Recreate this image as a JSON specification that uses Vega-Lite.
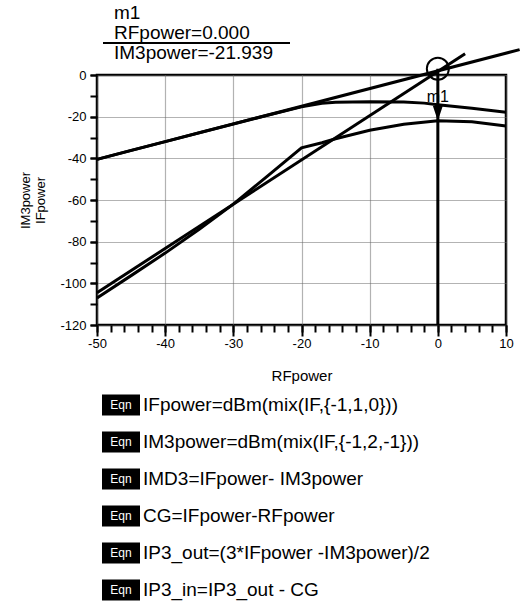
{
  "$schema": "https://vega.github.io/schema/vega-lite/v6.json",
  "padding": {"left": 18, "top": 3, "right": 0, "bottom": 0},
  "bounds": "flush",
  "spacing": 12,
  "config": {
    "font": "Liberation Sans",
    "view": {"stroke": null},
    "axis": {"labelFont": "Liberation Sans", "titleFont": "Liberation Sans", "titleFontWeight": "normal", "labelColor": "black", "titleColor": "black", "tickColor": "black"}
  },
  "datasets": {
    "traces": [
      {"series": "IFpower", "RFpower": -50, "power": -40.5},
      {"series": "IFpower", "RFpower": -45, "power": -36.2},
      {"series": "IFpower", "RFpower": -40, "power": -32.0},
      {"series": "IFpower", "RFpower": -35, "power": -27.7},
      {"series": "IFpower", "RFpower": -30, "power": -23.5},
      {"series": "IFpower", "RFpower": -25, "power": -19.3},
      {"series": "IFpower", "RFpower": -20, "power": -15.3},
      {"series": "IFpower", "RFpower": -17, "power": -13.6},
      {"series": "IFpower", "RFpower": -15, "power": -13.1},
      {"series": "IFpower", "RFpower": -10, "power": -12.8},
      {"series": "IFpower", "RFpower": -5, "power": -13.0},
      {"series": "IFpower", "RFpower": -2, "power": -13.5},
      {"series": "IFpower", "RFpower": 0, "power": -14.3},
      {"series": "IFpower", "RFpower": 5, "power": -16.0},
      {"series": "IFpower", "RFpower": 10, "power": -17.9},
      {"series": "IFpower fit", "RFpower": -50, "power": -40.5},
      {"series": "IFpower fit", "RFpower": 12, "power": 12.2},
      {"series": "IM3power", "RFpower": -50, "power": -107},
      {"series": "IM3power", "RFpower": -45, "power": -96.3},
      {"series": "IM3power", "RFpower": -40, "power": -85.5},
      {"series": "IM3power", "RFpower": -35, "power": -74},
      {"series": "IM3power", "RFpower": -30, "power": -62},
      {"series": "IM3power", "RFpower": -25, "power": -48.5},
      {"series": "IM3power", "RFpower": -20, "power": -35},
      {"series": "IM3power", "RFpower": -17, "power": -32.5},
      {"series": "IM3power", "RFpower": -15, "power": -30.6},
      {"series": "IM3power", "RFpower": -10, "power": -26.5},
      {"series": "IM3power", "RFpower": -5, "power": -23.6},
      {"series": "IM3power", "RFpower": 0, "power": -21.939},
      {"series": "IM3power", "RFpower": 5, "power": -22.4},
      {"series": "IM3power", "RFpower": 10, "power": -24.5},
      {"series": "IM3power fit", "RFpower": -50, "power": -104.5},
      {"series": "IM3power fit", "RFpower": 4, "power": 10.2}
    ],
    "marker": [{"name": "m1", "RFpower": 0, "IM3power": -21.939, "ip3": 3}],
    "readout": [{"line": "m1"}, {"line": "RFpower=0.000"}, {"line": "IM3power=-21.939"}],
    "equations": [
      {"eq": "IFpower=dBm(mix(IF,{-1,1,0}))"},
      {"eq": "IM3power=dBm(mix(IF,{-1,2,-1}))"},
      {"eq": "IMD3=IFpower- IM3power"},
      {"eq": "CG=IFpower-RFpower"},
      {"eq": "IP3_out=(3*IFpower -IM3power)/2"},
      {"eq": "IP3_in=IP3_out - CG"}
    ]
  },
  "vconcat": [
    {
      "width": 409,
      "height": 60,
      "data": {"name": "readout"},
      "encoding": {
        "y": {"field": "line", "type": "nominal", "sort": null, "axis": null, "scale": {"type": "band", "paddingInner": 0, "paddingOuter": 0}}
      },
      "layer": [
        {
          "mark": {"type": "text", "align": "left", "baseline": "middle", "fontSize": 19, "color": "black"},
          "encoding": {"x": {"value": 17}, "text": {"field": "line"}}
        },
        {
          "transform": [{"filter": "datum.line === 'IM3power=-21.939'"}],
          "mark": {"type": "rule", "color": "black", "strokeWidth": 2},
          "encoding": {
            "y": {"field": "line", "type": "nominal", "sort": null, "bandPosition": 0},
            "x": {"value": 6},
            "x2": {"value": 193}
          }
        }
      ]
    },
    {
      "width": 409,
      "height": 250,
      "view": {"stroke": "black", "strokeWidth": 2.5},
      "resolve": {"axis": {"x": "independent", "y": "independent"}},
      "layer": [
        {
          "data": {"name": "traces"},
          "mark": {"type": "line", "color": "black", "strokeWidth": 3, "clip": false},
          "encoding": {
            "x": {"field": "RFpower", "type": "quantitative", "scale": {"domain": [-50, 10], "nice": false, "zero": false}, "axis": null},
            "y": {"field": "power", "type": "quantitative", "scale": {"domain": [-120, 0], "nice": false, "zero": false}, "axis": null},
            "detail": {"field": "series", "type": "nominal"}
          }
        },
        {
          "data": {"name": "marker"},
          "mark": {"type": "rule", "color": "black", "strokeWidth": 3},
          "encoding": {
            "x": {
              "field": "RFpower", "type": "quantitative",
              "axis": {
                "orient": "bottom",
                "values": [-50,-48,-46,-44,-42,-40,-38,-36,-34,-32,-30,-28,-26,-24,-22,-20,-18,-16,-14,-12,-10,-8,-6,-4,-2,0,2,4,6,8,10],
                "labels": false, "grid": false, "domain": false, "title": null,
                "tickSize": 7, "tickWidth": 2
              }
            },
            "y": {
              "field": "ip3", "type": "quantitative",
              "axis": {
                "orient": "left",
                "values": [-120,-110,-100,-90,-80,-70,-60,-50,-40,-30,-20,-10,0],
                "labels": false, "grid": false, "domain": false, "title": null,
                "tickSize": 7, "tickWidth": 2
              }
            },
            "y2": {"datum": -120}
          }
        },
        {
          "data": {"name": "marker"},
          "mark": {"type": "point", "shape": "M-1,-3L1,-3L0,0Z", "filled": true, "color": "black", "size": 100, "opacity": 1},
          "encoding": {
            "x": {"field": "RFpower", "type": "quantitative", "axis": null},
            "y": {"field": "IM3power", "type": "quantitative", "axis": null}
          }
        },
        {
          "data": {"name": "marker"},
          "mark": {"type": "text", "baseline": "bottom", "align": "center", "dy": -16, "fontSize": 16, "color": "black"},
          "encoding": {
            "x": {"field": "RFpower", "type": "quantitative", "axis": null},
            "y": {"field": "IM3power", "type": "quantitative", "axis": null},
            "text": {"field": "name"}
          }
        },
        {
          "data": {"name": "marker"},
          "mark": {"type": "point", "shape": "circle", "filled": false, "color": "black", "strokeWidth": 2, "size": 484, "opacity": 1},
          "encoding": {
            "x": {
              "field": "RFpower", "type": "quantitative",
              "axis": {
                "orient": "bottom",
                "values": [-50, -40, -30, -20, -10, 0, 10],
                "labelExpr": "'' + datum.value",
                "grid": true, "gridColor": "#666666", "gridDash": [1, 1], "gridWidth": 1.2, "gridOpacity": 1,
                "tickSize": 11, "tickWidth": 2, "domain": false,
                "labelFontSize": 13, "labelPadding": 1, "labelFlush": false,
                "title": "RFpower", "titleFontSize": 15, "titlePadding": 18
              }
            },
            "y": {
              "field": "ip3", "type": "quantitative",
              "axis": {
                "orient": "left",
                "values": [-120, -100, -80, -60, -40, -20, 0],
                "labelExpr": "'' + datum.value",
                "grid": true, "gridColor": "#666666", "gridDash": [1, 1], "gridWidth": 1.2, "gridOpacity": 1,
                "tickSize": 7, "tickWidth": 2, "domain": false,
                "labelFontSize": 13, "labelPadding": 4,
                "title": ["IM3power", "IFpower"], "titleFontSize": 13, "titlePadding": 12
              }
            }
          }
        }
      ]
    },
    {
      "width": 409,
      "height": 263.5,
      "data": {"name": "equations"},
      "encoding": {
        "y": {"field": "eq", "type": "nominal", "sort": null, "axis": null, "scale": {"type": "band", "paddingInner": 0.432, "paddingOuter": 0.777, "align": 1}}
      },
      "layer": [
        {"mark": {"type": "rect", "color": "black"}, "encoding": {"x": {"value": 5}, "x2": {"value": 43}}},
        {"mark": {"type": "text", "text": "Eqn", "color": "white", "fontSize": 12, "align": "center", "baseline": "middle"}, "encoding": {"x": {"value": 24}}},
        {"mark": {"type": "text", "align": "left", "baseline": "middle", "fontSize": 19, "color": "black"}, "encoding": {"x": {"value": 46}, "text": {"field": "eq"}}}
      ]
    }
  ]
}
